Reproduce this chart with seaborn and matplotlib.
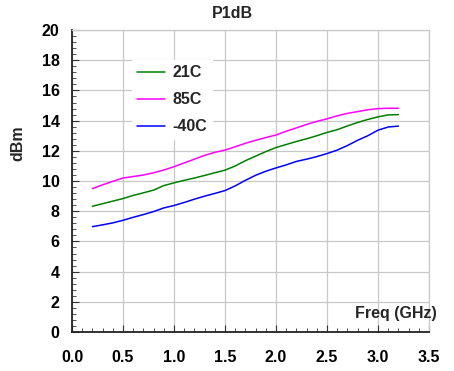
import pandas as pd
import matplotlib.pyplot as plt
import seaborn as sns
import numpy as np
from matplotlib.ticker import MultipleLocator

# P1dB vs frequency at three temperatures
freq = [0.2, 0.3, 0.4, 0.5, 0.6, 0.7, 0.8, 0.9, 1.0, 1.1, 1.2, 1.3, 1.4, 1.5, 1.6,
        1.7, 1.8, 1.9, 2.0, 2.1, 2.2, 2.3, 2.4, 2.5, 2.6, 2.7, 2.8, 2.9, 3.0, 3.1, 3.2]
p1db_21c = [8.33, 8.50, 8.67, 8.84, 9.05, 9.22, 9.40, 9.70, 9.88, 10.05, 10.20, 10.37,
            10.55, 10.72, 11.00, 11.35, 11.65, 11.95, 12.22, 12.42, 12.62, 12.80, 13.00,
            13.22, 13.40, 13.65, 13.88, 14.08, 14.25, 14.38, 14.40]
p1db_85c = [9.50, 9.75, 9.98, 10.20, 10.30, 10.40, 10.55, 10.73, 10.95, 11.20, 11.45,
            11.70, 11.90, 12.05, 12.27, 12.50, 12.70, 12.88, 13.05, 13.30, 13.52, 13.75,
            13.95, 14.12, 14.32, 14.48, 14.60, 14.72, 14.80, 14.82, 14.82]
p1db_m40c = [6.98, 7.10, 7.23, 7.40, 7.60, 7.78, 7.98, 8.22, 8.38, 8.58, 8.80, 9.00,
             9.18, 9.37, 9.68, 10.05, 10.38, 10.65, 10.87, 11.07, 11.30, 11.45, 11.62,
             11.82, 12.05, 12.35, 12.70, 13.00, 13.37, 13.58, 13.64]
series = ["21C", "85C", "-40C"]
colors = {"21C": "#008000", "85C": "#FF00FF", "-40C": "#0000FF"}

df = pd.concat([
    pd.DataFrame({"Freq": freq, "dBm": p1db_21c, "Temp": "21C"}),
    pd.DataFrame({"Freq": freq, "dBm": p1db_85c, "Temp": "85C"}),
    pd.DataFrame({"Freq": freq, "dBm": p1db_m40c, "Temp": "-40C"}),
])

sns.set_style("white")
plt.rcParams['font.family'] = ['Liberation Sans', 'DejaVu Sans']
plt.rcParams['font.weight'] = 'bold'
fs = 11.5

fig = plt.figure(figsize=(4.54, 3.71), dpi=100)
ax = fig.add_axes([0.1586, 0.105, 0.7864, 0.814])

sns.lineplot(data=df, x="Freq", y="dBm", hue="Temp", hue_order=series,
             palette=colors, linewidth=1.1, ax=ax)

ax.set_xlim(0, 3.5)
ax.set_ylim(0, 20)
ax.xaxis.set_major_locator(MultipleLocator(0.5))
ax.xaxis.set_minor_locator(MultipleLocator(0.1))
ax.yaxis.set_major_locator(MultipleLocator(2))
ax.yaxis.set_minor_locator(MultipleLocator(0.4))
ax.xaxis.set_major_formatter(plt.FormatStrFormatter('%.1f'))
ax.grid(True, which='major', color='#c8c8c8', linewidth=0.9)
ax.tick_params(which='both', direction='in', bottom=True, left=True, colors='#333333',
               labelcolor='black', labelsize=fs)
ax.tick_params(which='major', length=5)
ax.tick_params(which='minor', length=3)
ax.tick_params(axis='x', pad=13)
ax.tick_params(axis='y', pad=9)
for lab in ax.get_xticklabels() + ax.get_yticklabels():
    lab.set_fontweight('bold')

for s in ['left', 'bottom']:
    ax.spines[s].set_color('#222222')
    ax.spines[s].set_linewidth(1.3)
for s in ['top', 'right']:
    ax.spines[s].set_color('#c8c8c8')
    ax.spines[s].set_linewidth(0.9)

ax.set_xlabel("")
ax.set_ylabel("dBm", fontsize=fs, fontweight='bold')
ax.yaxis.set_label_coords(-0.13, 0.625)
ax.set_title("P1dB", fontsize=fs, fontweight='bold', x=0.448, pad=9)
ax.text(1.022, 0.035, "Freq (GHz)", transform=ax.transAxes, ha='right', va='bottom',
        fontsize=fs, fontweight='bold')

leg = ax.legend(loc='upper left', bbox_to_anchor=(0.147, 0.926), frameon=True,
                framealpha=1, edgecolor='white', fancybox=False,
                prop={'weight': 'bold', 'size': fs}, handlelength=1.75,
                labelspacing=0.75, handletextpad=0.45, borderpad=0.3)

fig.savefig("out.png", dpi=100)
